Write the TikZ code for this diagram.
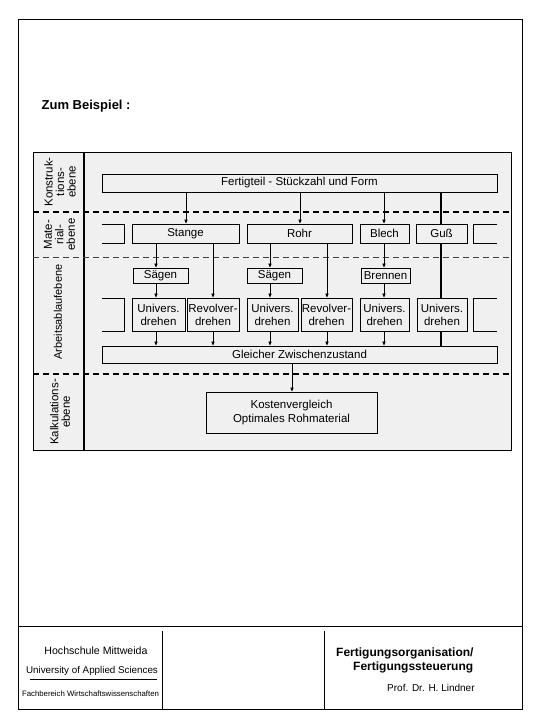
\documentclass[tikz,border=0pt]{standalone}
\usepackage{fontspec}
\setmainfont{Liberation Sans}
\usetikzlibrary{arrows.meta,calc}
\begin{document}
\begin{tikzpicture}[x=1pt,y=-1pt,
  box/.style={draw,line width=0.9pt,inner sep=0pt,align=center,font=\fontsize{11.5}{13}\selectfont},
  arr/.style={-{Triangle[length=4pt,width=3.2pt]},line width=0.7pt},
  thk/.style={line width=1.5pt},
  part/.style={line width=0.9pt},
  lbl/.style={rotate=90,inner sep=0pt,align=center,font=\fontsize{11.5}{11.5}\selectfont},
  sep/.style={line width=1.5pt,dash pattern=on 6pt off 4pt},
  septhin/.style={line width=0.9pt,dash pattern=on 6pt off 4pt,black!75},
  ftxt/.style={inner sep=0pt}]
\useasboundingbox (0,0) rectangle (540,720);
\fill[white] (0,0) rectangle (540,720);
% page frame
\draw[line width=0.9pt] (18,19) rectangle (522,709);
\draw[line width=0.9pt] (18,626) -- (522,626);
\draw[line width=0.9pt] (162,631) -- (162,709);
\draw[line width=0.9pt] (324,631) -- (324,709);
% header text
\node[ftxt,anchor=west,font=\fontsize{13}{15}\selectfont\bfseries] (zb) at (41.5,106) {Zum Beispiel :};
% diagram background
\fill[black!6] (33,152) rectangle (511,450);
\draw[line width=1pt] (33,152) rectangle (511,450);
\draw[line width=1.1pt] (84,152) -- (84,450);
\draw[sep] (33,212) -- (511,212);
\draw[septhin] (33,257) -- (511,257);
\draw[sep] (33,374) -- (511,374);
% level labels
\node[lbl] (lk) at (60,182) {Konstruk-\\tions-\\ebene};
\node[lbl] (lm) at (59.5,234.5) {Mate-\\rial-\\ebene};
\node[lbl,font=\fontsize{11}{11}\selectfont] (la) at (58,312) {Arbeitsablaufebene};
\node[lbl] (lc) at (60,412) {Kalkulations-\\ebene};
% column coordinates
\coordinate (c1) at (156,0);
\coordinate (c2) at (186,0);
\coordinate (c3) at (213,0);
\coordinate (c4) at (270,0);
\coordinate (c5) at (292,0);
\coordinate (c6) at (300,0);
\coordinate (c7) at (327,0);
\coordinate (c8) at (384,0);
\coordinate (c9) at (441,0);
% boxes
\node[box,minimum width=395pt,minimum height=18pt] (fert) at (299.5,183) {Fertigteil - Stückzahl und Form};
\node[box,minimum width=107pt,minimum height=19pt] (stange) at (185.5,233.5) {Stange};
\node[box,minimum width=105pt,minimum height=19pt] (rohr) at (299.5,233.5) {Rohr};
\node[box,minimum width=49pt,minimum height=19pt] (blech) at (384.5,233.5) {Blech};
\node[box,minimum width=51pt,minimum height=19pt] (guss) at (441.5,233.5) {Guß};
\draw[part] (102,224) -- (124,224) -- (124,243) -- (102,243);
\draw[part] (497,224) -- (473,224) -- (473,243) -- (497,243);
\node[box,minimum width=55pt,minimum height=15pt] (sa1) at (160.5,275.5) {Sägen};
\node[box,minimum width=55pt,minimum height=15pt] (sa2) at (274.5,275.5) {Sägen};
\node[box,minimum width=49pt,minimum height=15pt] (bren) at (385.5,275.5) {Brennen};
\node[box,minimum width=53pt,minimum height=33pt] (u1) at (158.5,314.5) {Univers.\\drehen};
\node[box,minimum width=52pt,minimum height=33pt] (r1) at (213,314.5) {Revolver-\\drehen};
\node[box,minimum width=51pt,minimum height=33pt] (u2) at (272.5,314.5) {Univers.\\drehen};
\node[box,minimum width=51pt,minimum height=33pt] (r2) at (326.5,314.5) {Revolver-\\drehen};
\node[box,minimum width=49pt,minimum height=33pt] (u3) at (384.5,314.5) {Univers.\\drehen};
\node[box,minimum width=50pt,minimum height=33pt] (u4) at (442,314.5) {Univers.\\drehen};
\draw[part] (102,298) -- (124,298) -- (124,331) -- (102,331);
\draw[part] (497,298) -- (473,298) -- (473,331) -- (497,331);
\node[box,minimum width=395pt,minimum height=17pt] (gleich) at (299.5,354.5) {Gleicher Zwischenzustand};
\node[box,minimum width=171pt,minimum height=41pt,font=\fontsize{11.5}{13.5}\selectfont] (kost) at (291.5,412.5) {Kostenvergleich\\Optimales Rohmaterial};
% connectors
\draw[arr] (fert.south -| c2) -- (stange.north -| c2);
\draw[arr] (fert.south -| c6) -- (rohr.north -| c6);
\draw[arr] (fert.south -| c8) -- (blech.north -| c8);
\draw[thk] (fert.south -| c9) -- (guss.north -| c9);
\draw[arr] (stange.south -| c1) -- (sa1.north -| c1);
\draw[arr] (stange.south -| c3) -- (r1.north -| c3);
\draw[arr] (rohr.south -| c4) -- (sa2.north -| c4);
\draw[arr] (rohr.south -| c7) -- (r2.north -| c7);
\draw[arr] (blech.south -| c8) -- (bren.north -| c8);
\draw[thk] (guss.south -| c9) -- (u4.north -| c9);
\draw[arr] (sa1.south -| c1) -- (u1.north -| c1);
\draw[arr] (sa2.south -| c4) -- (u2.north -| c4);
\draw[arr] (bren.south -| c8) -- (u3.north -| c8);
\draw[arr] (u1.south -| c1) -- (gleich.north -| c1);
\draw[arr] (r1.south -| c3) -- (gleich.north -| c3);
\draw[arr] (u2.south -| c4) -- (gleich.north -| c4);
\draw[arr] (r2.south -| c7) -- (gleich.north -| c7);
\draw[arr] (u3.south -| c8) -- (gleich.north -| c8);
\draw[thk] (u4.south -| c9) -- (gleich.north -| c9);
\draw[arr] (gleich.south -| c5) -- (kost.north -| c5);
% footer text
\node[ftxt,font=\fontsize{10.6}{12}\selectfont] (hs) at (96,651) {Hochschule Mittweida};
\node[ftxt,font=\fontsize{9.8}{12}\selectfont] (uas) at (92,671) {University of Applied Sciences};
\coordinate (ulA) at (30,679);
\coordinate (ulB) at (157,679);
\draw[line width=0.8pt] (ulA) -- (ulB);
\node[ftxt,font=\fontsize{7.8}{9}\selectfont] (fb) at (90.5,694) {Fachbereich Wirtschaftswissenschaften};
\node[ftxt,anchor=west,font=\fontsize{12}{14}\selectfont\bfseries] (t1) at (336,653) {Fertigungsorganisation/};
\node[ftxt,anchor=west,font=\fontsize{12}{14}\selectfont\bfseries] (t2) at (353,667) {Fertigungssteuerung};
\node[ftxt,anchor=west,font=\fontsize{10}{12}\selectfont] (prof) at (387,688) {Prof. Dr. H. Lindner};
\end{tikzpicture}
\end{document}
